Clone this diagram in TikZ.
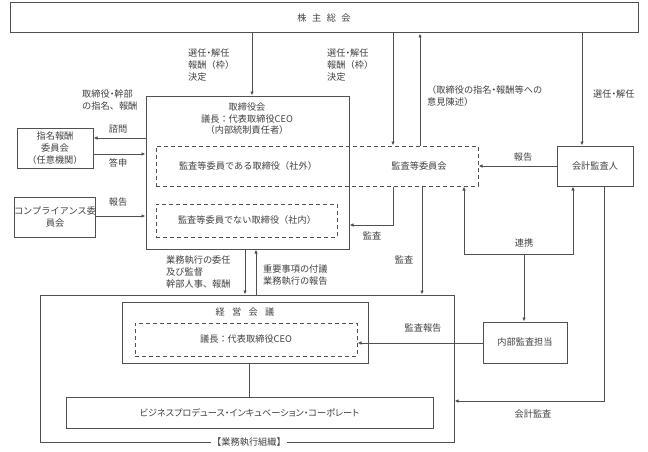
\documentclass[tikz,border=0pt]{standalone}
\usepackage{fontspec}
\setmainfont{Noto Sans CJK JP}
\newfontfamily\pfont[RawFeature=+palt]{Noto Sans CJK JP}
\newcommand{\nd}{{\pfont ・}}
\usetikzlibrary{arrows.meta}
\definecolor{ln}{HTML}{505050}
\definecolor{tx}{HTML}{404040}
\begin{document}
\begin{tikzpicture}[x=1pt,y=-1pt,
  every node/.style={font=\fontsize{9.2}{12}\selectfont, text=tx, inner sep=0pt},
  box/.style={draw=ln, line width=1pt, align=center},
  dbox/.style={draw=ln, line width=1pt, dash pattern=on 4pt off 3pt},
  arr/.style={draw=ln, line width=0.8pt, -{Latex[length=4pt,width=3.5pt]}},
  plain/.style={draw=ln, line width=0.8pt},
  lbl/.style={align=left, anchor=west},
  clbl/.style={align=center}]
\useasboundingbox (0,0) rectangle (648,452);
% boxes
\node[box, minimum width=628pt, minimum height=30pt] (soukai) at (324,18) {株\hspace{0.6em}主\hspace{0.6em}総\hspace{0.6em}会};
\node[box, minimum width=203pt, minimum height=153pt] (board) at (247.5,172.5) {};
\node[dbox, minimum width=322pt, minimum height=40pt] (kansa) at (317,166) {};
\node[dbox, minimum width=181pt, minimum height=33pt] (shanai) at (246.5,220.5) {};
\node[box, minimum width=76pt, minimum height=40pt] (shimei) at (55,148) {指名報酬\\委員会\\（任意機関）};
\node[box, minimum width=76pt, minimum height=40pt] (comp) at (55,217) {コンプライアンス委\\員会};
\node[box, minimum width=76pt, minimum height=40pt] (kaikei) at (595,166) {会計監査人};
\node[box, minimum width=84pt, minimum height=41pt] (naibu) at (525,342.5) {内部監査担当};
\node[box, minimum width=414pt, minimum height=147pt] (gyomu) at (247,368.5) {};
\node[box, minimum width=246pt, minimum height=61pt] (keiei) at (245,332.5) {};
\node[dbox, minimum width=222pt, minimum height=33pt] (ceo) at (246,339.5) {議長：代表取締役CEO};
\node[box, minimum width=367pt, minimum height=31pt] (biz) at (249.5,412.5) {\pfont ビジネスプロデュース・インキュベーション・コーポレート};
% texts inside
\node (t1) at (247,107) {取締役会};
\node (t2) at (247,119) {議長：代表取締役CEO};
\node (t3) at (247,130) {（内部統制責任者）};
\node (t4) at (248,166) {監査等委員である取締役（社外）};
\node (t5) at (419,166) {監査等委員会};
\node (t6) at (247,220) {監査等委員でない取締役（社内）};
\node (t7) at (245,312) {経\hspace{0.8em}営\hspace{0.8em}会\hspace{0.8em}議};
\node[fill=white, inner xsep=1pt] (t8) at (249,442) {【業務執行組織】};
% x positions
\coordinate (xa) at (252,0);
\coordinate (xb) at (393,0);
\coordinate (xc) at (420,0);
\coordinate (xd) at (582,0);
\coordinate (xe) at (422,0);
\coordinate (xf) at (464,0);
\coordinate (xg) at (573,0);
\coordinate (xh) at (524,0);
\coordinate (xi) at (604,0);
\coordinate (xj) at (245,0);
\coordinate (xk) at (256,0);
\coordinate (xl) at (249,0);
\coordinate (ya) at (0,138);
\coordinate (yb) at (0,154);
\coordinate (yc) at (0,216);
\coordinate (yd) at (0,225);
\coordinate (ye) at (0,254);
\coordinate (yf) at (0,401);
\coordinate (yg) at (0,343);
\coordinate (kb) at (393,225);
\coordinate (lk) at (464,254);
\coordinate (lr) at (573,254);
\coordinate (lm) at (524,254);
\coordinate (ka) at (604,401);
% connectors
\draw[arr] (soukai.south -| xa) -- (board.north -| xa);
\draw[arr] (soukai.south -| xb) -- (kansa.north -| xb);
\draw[arr] (kansa.north -| xc) -- (soukai.south -| xc);
\draw[arr] (soukai.south -| xd) -- (kaikei.north -| xd);
\draw[arr] (board.west |- ya) -- (shimei.east |- ya);
\draw[arr] (shimei.east |- yb) -- (board.west |- yb);
\draw[arr] (comp.east |- yc) -- (board.west |- yc);
\draw[arr] (kansa.south -| xb) -- (kb) -- (board.east |- yd);
\draw[arr] (kansa.south -| xe) -- (gyomu.north -| xe);
\draw[arr] (kaikei.west) -- (kansa.east);
\draw[arr] (lk) -- (kansa.south -| xf);
\draw[arr] (lk) -- (lr) -- (kaikei.south -| xg);
\draw[arr] (lm) -- (naibu.north -| xh);
\draw[arr] (naibu.west |- yg) -- (ceo.east |- yg);
\draw[arr] (kaikei.south -| xi) -- (ka) -- (gyomu.east |- yf);
\draw[arr] (board.south -| xj) -- (gyomu.north -| xj);
\draw[arr] (gyomu.north -| xk) -- (board.south -| xk);
\draw[plain] (keiei.south -| xl) -- (biz.north -| xl);
% labels
\node[lbl] (l1) at (188,65) {選任\nd 解任\\報酬（枠）\\決定};
\node[lbl] (l2) at (327,65) {選任\nd 解任\\報酬（枠）\\決定};
\node[lbl] (l3) at (427,96) {（取締役の指名\nd 報酬等への\\意見陳述）};
\node[lbl] (l4) at (593,94) {選任\nd 解任};
\node[lbl] (l5) at (82,100) {取締役\nd 幹部\\の指名、報酬};
\node[clbl] (l6) at (118,129) {諮問};
\node[clbl] (l7) at (118,163) {答申};
\node[clbl] (l8) at (118,202) {報告};
\node[clbl] (l9) at (372,236) {監査};
\node[clbl] (l10) at (404,260) {監査};
\node[clbl] (l11) at (523,157) {報告};
\node[clbl] (l12) at (524,243) {連携};
\node[clbl] (l13) at (423,328) {監査報告};
\node[clbl] (l14) at (533,414) {会計監査};
\node[lbl] (l15) at (166,272) {業務執行の委任\\及び監督\\幹部人事、報酬};
\node[lbl] (l16) at (263,275) {重要事項の付議\\業務執行の報告};
\end{tikzpicture}
\end{document}
